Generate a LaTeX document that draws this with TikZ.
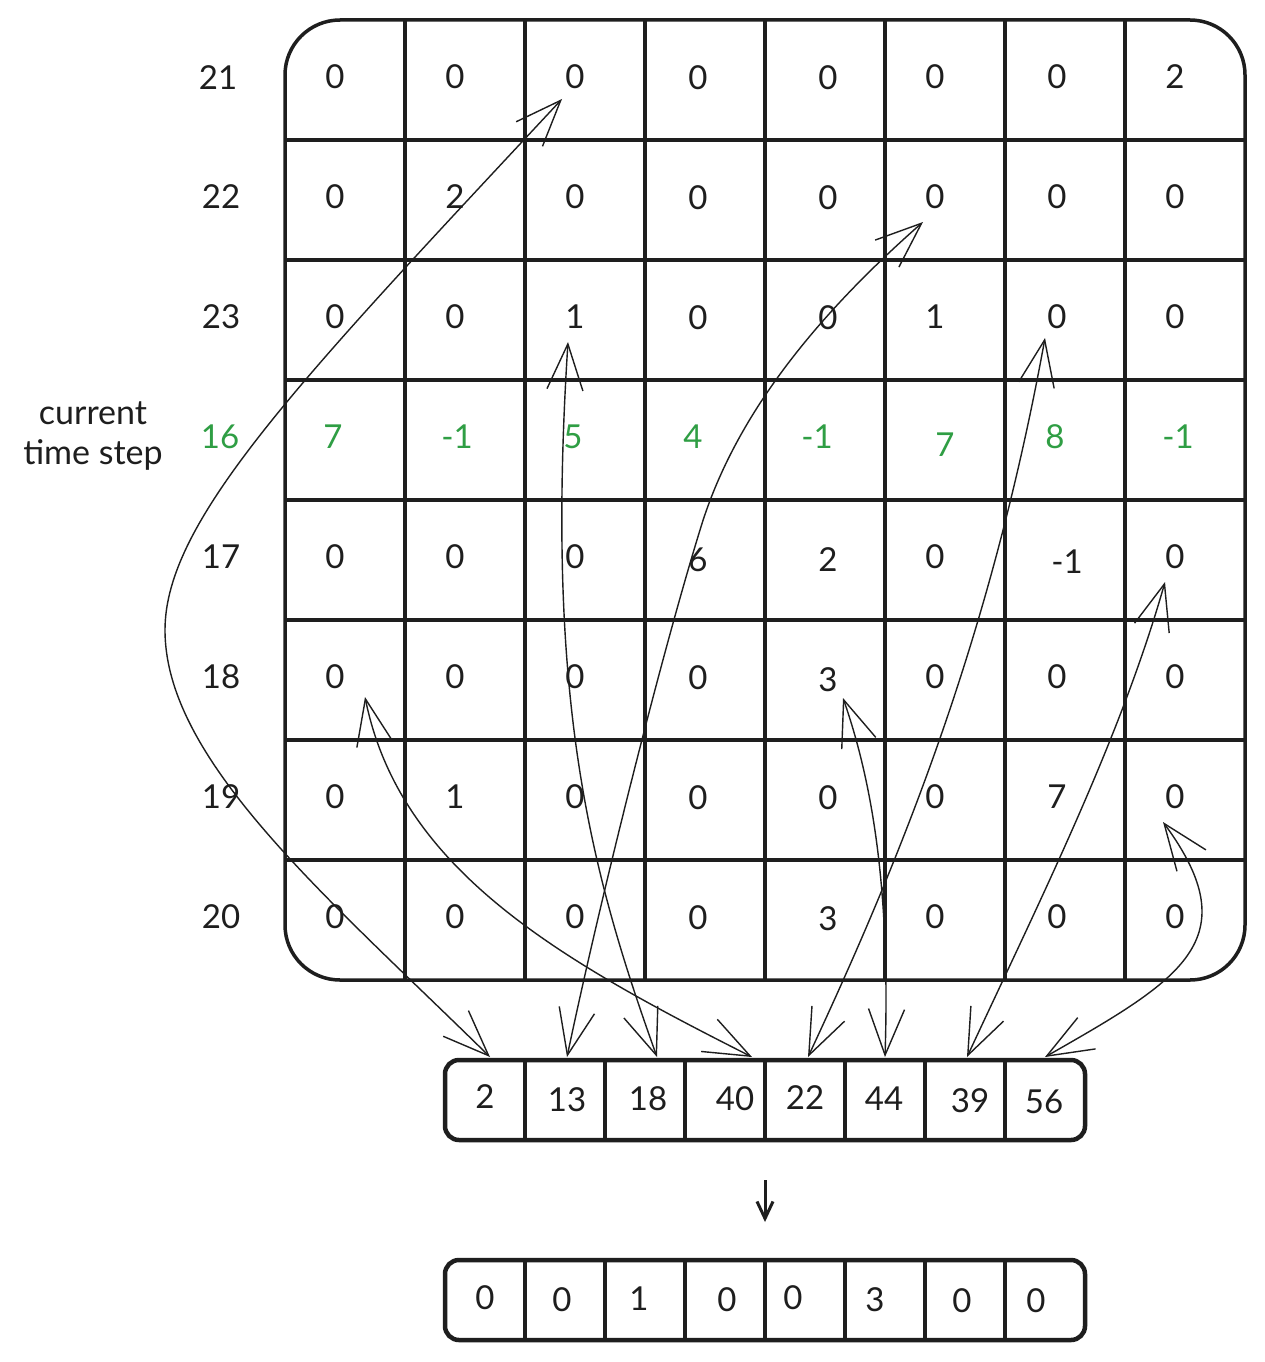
\documentclass[tikz,border=0pt]{standalone}
\usepackage{fontspec}
\setmainfont{Lato}
\usetikzlibrary{arrows.meta}
\definecolor{ink}{HTML}{1E1E1E}
\definecolor{grn}{HTML}{2F9E44}
\begin{document}
\begin{tikzpicture}[x=1pt,y=-1pt,
  num/.style={font=\fontsize{33}{33}\selectfont, text=ink, inner sep=0pt},
  gnum/.style={num, text=grn},
  lbl/.style={font=\fontsize{34}{40}\selectfont, text=ink, inner sep=0pt, align=center},
  gridline/.style={line width=3.5pt, draw=ink},
  divline/.style={line width=4pt, draw=ink},
  box/.style={draw=ink, line width=4.5pt, rounded corners=14pt, minimum width=640pt, minimum height=80pt, inner sep=0pt},
  link/.style={draw=ink, line width=1.4pt, line cap=round,
    {Straight Barb[length=46pt,width=36pt,line width=1.4pt]}-{Straight Barb[length=46pt,width=36pt,line width=1.4pt]}},
  downarrow/.style={draw=ink, line width=3pt, -{Straight Barb[length=17pt,width=16pt]}}
]
\useasboundingbox (0,0) rectangle (1264,1362);
\fill[white] (0,0) rectangle (1264,1362);

% grid
\node[draw=ink, line width=3.5pt, rounded corners=55pt, minimum width=960pt, minimum height=960pt, inner sep=0pt] (grid) at (765,500) {};
\foreach \y in {140,260,380,500,620,740,860} \draw[gridline] (285,\y) -- (1245,\y);
\foreach \x in {405,525,645,765,885,1005,1125} \draw[gridline] (\x,20) -- (\x,980);

% row labels
\node[num] (r21) at (218,78) {21};
\node[num] (r22) at (221,197) {22};
\node[num] (r23) at (221,317) {23};
\node[gnum] (r16) at (220,437) {16};
\node[num] (r17) at (221,557) {17};
\node[num] (r18) at (221,677) {18};
\node[num] (r19) at (221,797) {19};
\node[num] (r20) at (221,917) {20};
\node[lbl] (cts) at (93,436) {current\\time step};

% cells
\foreach \x/\yy/\t [count=\i] in {335/77/0,455/77/0,575/77/0,698/78/0,828/78/0,935/77/0,1057/77/0,1175/77/2}
  \node[num] (a\i) at (\x,\yy) {\t};
\foreach \x/\yy/\t [count=\i] in {335/197/0,455/197/2,575/197/0,698/198/0,828/198/0,935/197/0,1057/197/0,1175/197/0}
  \node[num] (b\i) at (\x,\yy) {\t};
\foreach \x/\yy/\t [count=\i] in {335/317/0,455/317/0,575/317/1,698/318/0,828/318/0,935/317/1,1057/317/0,1175/317/0}
  \node[num] (c\i) at (\x,\yy) {\t};
\foreach \x/\yy/\t [count=\i] in {333/437/7,457/437/-1,573/437/5,693/437/4,817/437/-1,945/445/7,1055/437/8,1178/437/-1}
  \node[gnum] (d\i) at (\x,\yy) {\t};
\foreach \x/\yy/\t [count=\i] in {335/557/0,455/557/0,575/557/0,698/560/6,828/560/2,935/557/0,1067/562/-1,1175/557/0}
  \node[num] (e\i) at (\x,\yy) {\t};
\foreach \x/\yy/\t [count=\i] in {335/677/0,455/677/0,575/677/0,698/678/0,828/680/3,935/677/0,1057/677/0,1175/677/0}
  \node[num] (f\i) at (\x,\yy) {\t};
\foreach \x/\yy/\t [count=\i] in {335/797/0,455/797/1,575/797/0,698/798/0,828/798/0,935/797/0,1057/797/7,1175/797/0}
  \node[num] (g\i) at (\x,\yy) {\t};
\foreach \x/\yy/\t [count=\i] in {335/917/0,455/917/0,575/917/0,698/918/0,828/919/3,935/917/0,1057/917/0,1175/917/0}
  \node[num] (h\i) at (\x,\yy) {\t};

% arrays
\node[box] (arr1) at (765,1100) {};
\foreach \x in {525,605,685,765,845,925,1005} \draw[divline] (\x,1060) -- (\x,1140);
\foreach \x/\yy/\t [count=\i] in {485/1097/2,567/1100/13,648/1099/18,735/1099/40,805/1098/22,884/1099/44,970/1101/39,1044/1102/56}
  \node[num] (p\i) at (\x,\yy) {\t};

\node[box] (arr2) at (765,1300) {};
\foreach \x in {525,605,685,765,845,925,1005} \draw[divline] (\x,1260) -- (\x,1340);
\foreach \x/\yy/\t [count=\i] in {485/1298/0,562/1300/0,639/1299/1,727/1300/0,793/1298/0,875/1300/3,962/1301/0,1036/1301/0}
  \node[num] (q\i) at (\x,\yy) {\t};

% connector end points
\coordinate (sA) at (490,1057);  \coordinate (tA) at (562,99);  \coordinate (mA) at (165,630);
\coordinate (sB) at (567,1057);  \coordinate (tB) at (923,222); \coordinate (mB) at (700,530);
\coordinate (sC) at (657,1057);  \coordinate (tC) at (568,342);
\coordinate (sD) at (752,1057);  \coordinate (tD) at (365,697);
\coordinate (sE) at (808,1057);  \coordinate (tE) at (1045,338);
\coordinate (sF) at (885,1057);  \coordinate (tF) at (843,698);
\coordinate (sG) at (967,1057);  \coordinate (tG) at (1165,582);
\coordinate (sH) at (1045,1057); \coordinate (tH) at (1163,822);

\draw[link] (sA) .. controls (325,895) and (165,760) .. (mA) .. controls (165,520) and (300,380) .. (tA);
\draw[link] (sB) .. controls (600,900) and (660,660) .. (mB) .. controls (730,430) and (800,330) .. (tB);
\draw[link] (sC) .. controls (590,870) and (545,700) .. (tC);
\draw[link] (sD) .. controls (560,960) and (400,870) .. (tD);
\draw[link] (sE) .. controls (900,860) and (990,640) .. (tE);
\draw[link] (sF) .. controls (890,900) and (875,790) .. (tF);
\draw[link] (sG) .. controls (1040,900) and (1120,740) .. (tG);
\draw[link] (sH) .. controls (1180,980) and (1250,940) .. (tH);

% down arrow
\coordinate (dn1) at (765,1180);
\coordinate (dn2) at (765,1222);
\draw[downarrow] (dn1) -- (dn2);
\end{tikzpicture}
\end{document}
